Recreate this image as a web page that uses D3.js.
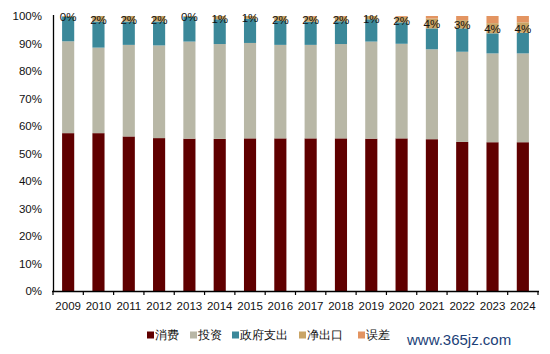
<!DOCTYPE html>
<html><head><meta charset="utf-8">
<script src="https://cdn.jsdelivr.net/npm/d3@7/dist/d3.min.js"></script>
<style>body{margin:0;background:#fff}svg{display:block}text{font-family:"Liberation Sans",Arial,sans-serif}</style>
</head><body><svg id="c" width="550" height="354"></svg>
<script>
const years = ["2009","2010","2011","2012","2013","2014","2015","2016","2017","2018","2019","2020","2021","2022","2023","2024"];
const consumption = [57.4,57.4,56.2,55.6,55.4,55.3,55.5,55.5,55.5,55.5,55.4,55.5,55.2,54.2,54.1,54.1];
const investment  = [33.4,31.1,33.3,33.7,35.3,34.5,34.7,34.0,34.0,34.3,35.3,34.4,32.7,32.8,32.3,32.3];
const government  = [ 8.9, 9.5, 8.5, 8.7, 9.0, 9.0, 8.8, 8.7, 8.4, 8.3, 8.1, 7.8, 7.6, 8.5, 7.3, 7.5];
const netExport   = [ 0.3, 2.0, 2.0, 2.0, 0.3, 1.2, 1.0, 1.8, 1.8, 1.6, 1.2, 2.0, 3.6, 3.0, 3.7, 3.8];
const errorTerm   = [ 0.0, 0.0, 0.0, 0.0, 0.0, 0.0, 0.0, 0.0, 0.3, 0.3, 0.0, 0.3, 0.9, 1.5, 2.6, 2.3];
const netLabels   = ["0%","2%","2%","2%","0%","1%","1%","2%","2%","2%","1%","2%","4%","3%","4%","4%"];
const seriesNames = ["消费","投资","政府支出","净出口","误差"];
const colors = ["#600000","#b8b7a6","#3b8899","#c9a465","#e39461"];
const yTicks = [0,10,20,30,40,50,60,70,80,90,100];

(function(){
const rows = years.map((y,i)=>({year:y, "消费":consumption[i],"投资":investment[i],"政府支出":government[i],"净出口":netExport[i],"误差":errorTerm[i]}));
const stack = d3.stack().keys(seriesNames)(rows);

const svg = d3.select("#c");
const L=53, R=538, T=16, B=291;
const x = d3.scaleBand().domain(years).range([L,R]).paddingInner(0.6).paddingOuter(0.3);
const y = d3.scaleLinear().domain([0,100]).range([B,T]);
const color = d3.scaleOrdinal().domain(seriesNames).range(colors);

svg.append("g").selectAll("g").data(stack).join("g")
  .attr("fill", d=>color(d.key))
  .selectAll("rect").data(d=>d).join("rect")
  .attr("x", d=>x(d.data.year))
  .attr("width", x.bandwidth())
  .attr("y", d=>y(d[1]))
  .attr("height", d=>Math.max(0, y(d[0])-y(d[1])));

// y axis
const ya = svg.append("g").attr("transform",`translate(${L},0)`)
  .call(d3.axisLeft(y).tickValues(yTicks).tickFormat(d=>d+"%").tickSize(0).tickPadding(11));
ya.select(".domain").attr("stroke","#000").attr("stroke-width",1.3).attr("d",`M0.5,${T-1}V${B}`);
ya.selectAll("text").attr("font-size","11.5px").attr("fill","#111");

// x axis
const xa = svg.append("g").attr("transform",`translate(0,${B})`);
xa.append("line").attr("x1",L-1).attr("x2",R+1).attr("y1",0.5).attr("y2",0.5).attr("stroke","#000").attr("stroke-width",1.3);
const step = x.step();
const bounds = d3.range(years.length+1).map(i=>L+i*step);
xa.selectAll("line.t").data(bounds).join("line").attr("class","t")
  .attr("x1",d=>d).attr("x2",d=>d).attr("y1",0).attr("y2",4).attr("stroke","#000").attr("stroke-width",1.2);
xa.selectAll("text").data(years).join("text")
  .attr("x",d=>x(d)+x.bandwidth()/2).attr("y",19)
  .attr("text-anchor","middle").attr("font-size","11.5px").attr("fill","#111").text(d=>d);

// labels for net exports
const netLayer = stack[3];
svg.append("g").selectAll("text").data(netLayer).join("text")
  .attr("x",d=>x(d.data.year)+x.bandwidth()/2)
  .attr("y",d=>y((d[0]+d[1])/2)+1)
  .attr("dy","0.35em")
  .attr("text-anchor","middle").attr("font-size","11.5px").attr("fill","#111")
  .text((d,i)=>netLabels[i]);

// legend
const legX = [147,190,232,299,358];
const lg = svg.append("g").selectAll("g").data(seriesNames).join("g")
  .attr("transform",(d,i)=>`translate(${legX[i]},335)`);
lg.append("rect").attr("x",0).attr("y",-3.5).attr("width",7).attr("height",7).attr("fill",d=>color(d));
lg.append("text").attr("x",8).attr("y",0).attr("dy","0.36em").attr("font-size","12px")
  .attr("font-family","'Noto Sans CJK SC',sans-serif").attr("fill","#111").text(d=>d);

// watermark
svg.append("text").attr("x",407).attr("y",345).attr("font-size","15px")
  .attr("font-family","'DejaVu Serif','Liberation Serif',serif").attr("fill","#1c3f78").text("www.365jz.com");
})();
</script></body></html>
